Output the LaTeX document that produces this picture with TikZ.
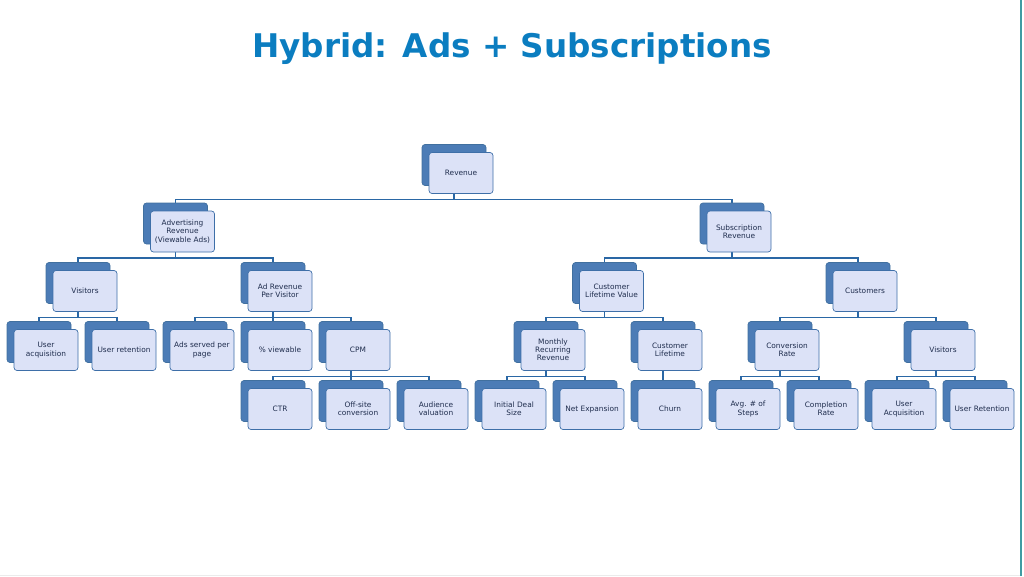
\documentclass[tikz,border=0pt]{standalone}
\usepackage{fontspec}
\setmainfont{DejaVu Sans}
\usetikzlibrary{shadows,backgrounds}
\definecolor{boxfill}{HTML}{DCE2F7}
\definecolor{boxline}{HTML}{3E6FA8}
\definecolor{shfill}{HTML}{4C7CB6}
\definecolor{shline}{HTML}{41709F}
\definecolor{boxtext}{HTML}{1F2D4D}
\definecolor{linec}{HTML}{2A67A5}
\definecolor{titlec}{HTML}{0B7DC0}
\definecolor{edgec}{HTML}{3F9CA3}
\tikzset{
  box/.style={draw=boxline, fill=boxfill, rounded corners=3pt,
    minimum width=64pt, minimum height=41pt, inner sep=1pt, align=center,
    font=\fontsize{7.4}{8.2}\selectfont, text=boxtext, line width=0.7pt,
    copy shadow={shadow xshift=-7pt, shadow yshift=8pt, fill=shfill, draw=shline, line width=0.7pt}},
  conn/.style={draw=linec, line width=1.3pt},
  titlestyle/.style={font=\fontsize{32.6}{38}\bfseries\selectfont, text=titlec, anchor=base, inner sep=0pt}
}
\newcommand\tlink[2]{\draw[conn] ([xshift=-7pt]#1.south) -- ++(0,-5.5) -| ([shift={(-7pt,8pt)}]#2.north);}
\begin{document}
\begin{tikzpicture}[x=1pt,y=1pt]
\useasboundingbox (0,0) rectangle (1024,-576);
\node[titlestyle] (title) at (512,-57) {Hybrid: Ads + Subscriptions};
\draw[edgec, line width=1.2pt] (1021,0) coordinate (e1) -- (1021,-576) coordinate (e2);
\draw[black!8, line width=1pt] (0,-575.5) coordinate (b1) -- (1020,-575.5) coordinate (b2);
% level 0
\node[box] (rev) at (461,-173) {Revenue};
% level 1
\node[box] (adv) at (182.5,-231.5) {Advertising\\Revenue\\(Viewable Ads)};
\node[box] (sub) at (739,-231.5) {Subscription\\Revenue};
% level 2
\node[box] (vis) at (85,-291) {Visitors};
\node[box] (arpv) at (280,-291) {Ad Revenue\\Per Visitor};
\node[box] (clv) at (611.5,-291) {Customer\\Lifetime Value};
\node[box] (cus) at (865,-291) {Customers};
% level 3
\node[box] (uacq) at (46,-350) {User\\acquisition};
\node[box] (uret) at (124,-350) {User retention};
\node[box] (asp) at (202,-350) {Ads served per\\page};
\node[box] (pv) at (280,-350) {\% viewable};
\node[box] (cpm) at (358,-350) {CPM};
\node[box] (mrr) at (553,-350) {Monthly\\Recurring\\Revenue};
\node[box] (cl) at (670,-350) {Customer\\Lifetime};
\node[box] (cr) at (787,-350) {Conversion\\Rate};
\node[box] (vis2) at (943,-350) {Visitors};
% level 4
\node[box] (ctr) at (280,-409) {CTR};
\node[box] (off) at (358,-409) {Off-site\\conversion};
\node[box] (aud) at (436,-409) {Audience\\valuation};
\node[box] (ids) at (514,-409) {Initial Deal\\Size};
\node[box] (nex) at (592,-409) {Net Expansion};
\node[box] (chu) at (670,-409) {Churn};
\node[box] (avg) at (748,-409) {Avg. \# of\\Steps};
\node[box] (comp) at (826,-409) {Completion\\Rate};
\node[box] (uacq2) at (904,-409) {User\\Acquisition};
\node[box] (uret2) at (982,-409) {User Retention};
\begin{scope}[on background layer]
\tlink{rev}{adv}\tlink{rev}{sub}
\tlink{adv}{vis}\tlink{adv}{arpv}
\tlink{sub}{clv}\tlink{sub}{cus}
\tlink{vis}{uacq}\tlink{vis}{uret}
\tlink{arpv}{asp}\tlink{arpv}{pv}\tlink{arpv}{cpm}
\tlink{clv}{mrr}\tlink{clv}{cl}
\tlink{cus}{cr}\tlink{cus}{vis2}
\tlink{cpm}{ctr}\tlink{cpm}{off}\tlink{cpm}{aud}
\tlink{mrr}{ids}\tlink{mrr}{nex}
\tlink{cl}{chu}
\tlink{cr}{avg}\tlink{cr}{comp}
\tlink{vis2}{uacq2}\tlink{vis2}{uret2}
\end{scope}
\end{tikzpicture}
\end{document}
